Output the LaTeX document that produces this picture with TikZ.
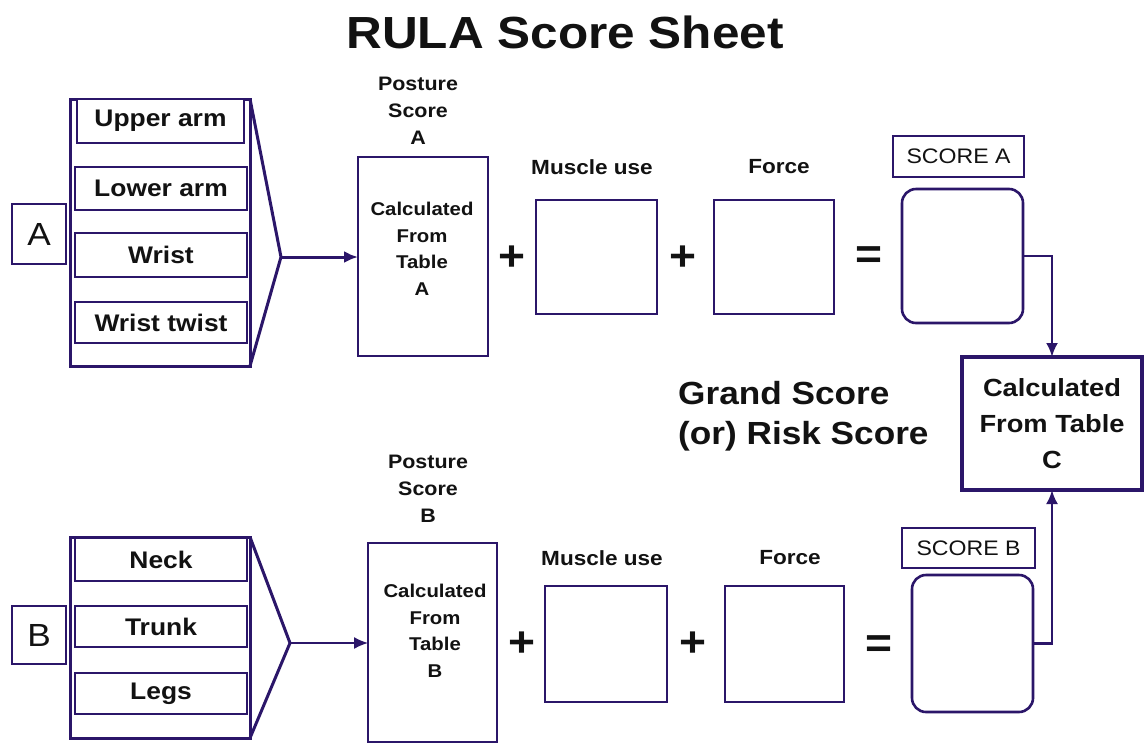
\documentclass[tikz,border=0pt]{standalone}
\usepackage{fontspec}
\setmainfont{Liberation Sans}[FakeStretch=1.1]
\usetikzlibrary{arrows.meta}
\definecolor{ln}{RGB}{43,22,105}
\definecolor{tx}{RGB}{18,18,18}
\begin{document}
\begin{tikzpicture}[x=1pt,y=1pt,
  box/.style={draw=ln, line width=2.6pt, inner sep=0pt, outer sep=0pt, fill=white, text=tx},
  thinbox/.style={box, line width=2pt},
  cbox/.style={box, line width=4.5pt},
  rbox/.style={box, rounded corners=14pt},
  part/.style={font=\bfseries\fontsize{24}{28}\selectfont},
  letter/.style={font=\fontsize{32}{36}\selectfont},
  plabel/.style={text=tx, align=center, inner sep=0pt, font=\bfseries\fontsize{19.5}{27}\selectfont},
  calc/.style={align=center, font=\bfseries\fontsize{18.5}{26.5}\selectfont},
  head/.style={text=tx, inner sep=0pt, font=\bfseries\fontsize{20.5}{24}\selectfont},
  op/.style={text=tx, inner sep=0pt, font=\bfseries\fontsize{42}{46}\selectfont},
  slabel/.style={thinbox, font=\fontsize{21}{24}\selectfont},
  chev/.style={draw=ln, line width=3pt, line join=miter},
  conn/.style={draw=ln, -{Latex[length=14pt,width=12pt]}},
]
\useasboundingbox (0,0) rectangle (1147,-742);
\fill[white] (0,0) rectangle (1147,-742);

% title
\node[text=tx, font=\bfseries\fontsize{45}{50}\selectfont] (title) at (565,-32) {RULA Score Sheet};

% ---------- group A ----------
\node[box, letter, minimum width=54, minimum height=60] (Abox) at (39,-234) {A};
\node[box, line width=3pt, minimum width=180, minimum height=267] (Acont) at (160,-232.5) {};
\node[box, part, minimum width=167, minimum height=44] (upper) at (160.5,-121) {Upper arm};
\node[box, part, minimum width=172, minimum height=43] (lower) at (161,-188.5) {Lower arm};
\node[box, part, minimum width=172, minimum height=44] (wrist) at (161,-255) {Wrist};
\node[box, part, minimum width=172, minimum height=41] (twist) at (161,-322.5) {Wrist twist};
\coordinate (apexA) at (281,-257);
\draw[chev] (Acont.north east) -- (apexA) -- (Acont.south east);

\node[plabel] (plA) at (418,-111) {Posture\\Score\\A};
\node[thinbox, calc, minimum width=130, minimum height=199] (postA) at (423,-256.5) {};
\node[calc, text=tx] (calcA) at (422,-249) {Calculated\\From\\Table\\A};
\draw[conn, line width=3pt] (apexA) -- (apexA -| postA.west);

\node[op] (plusA1) at (512,-258) {+};
\node[head] (muA) at (592,-167) {Muscle use};
\node[box, minimum width=121, minimum height=114] (muscleA) at (596.5,-257) {};
\node[op] (plusA2) at (683,-258) {+};
\node[head] (foA) at (779,-167) {Force};
\node[box, minimum width=120, minimum height=114] (forceA) at (774,-257) {};
\node[op] (eqA) at (869,-258) {=};
\node[slabel, minimum width=131, minimum height=41] (slA) at (958.5,-156.5) {SCORE A};
\node[rbox, minimum width=121, minimum height=134] (scA) at (962.5,-256) {};

% ---------- result ----------
\node[cbox, align=center, font=\bfseries\fontsize{24.8}{36}\selectfont, minimum width=180, minimum height=133] (C) at (1052,-423.5) {Calculated\\From Table\\C};
\node[text=tx, align=left, anchor=west, inner sep=0pt, font=\bfseries\fontsize{32}{40}\selectfont] (grand) at (678,-416) {Grand Score\\(or) Risk Score};

% ---------- group B ----------
\node[box, letter, minimum width=54, minimum height=58] (Bbox) at (39,-635) {B};
\node[box, line width=3pt, minimum width=180, minimum height=201] (Bcont) at (160,-637.5) {};
\node[box, part, minimum width=172, minimum height=43] (neck) at (161,-559.5) {Neck};
\node[box, part, minimum width=172, minimum height=41] (trunk) at (161,-626.5) {Trunk};
\node[box, part, minimum width=172, minimum height=41] (legs) at (161,-693.5) {Legs};
\coordinate (apexB) at (290,-643);
\draw[chev] (Bcont.north east) -- (apexB) -- (Bcont.south east);

\node[plabel] (plB) at (428,-489) {Posture\\Score\\B};
\node[thinbox, line width=2.6pt, minimum width=129, minimum height=199] (postB) at (432.5,-642.5) {};
\node[calc, text=tx] (calcB) at (435,-631) {Calculated\\From\\Table\\B};
\draw[conn, line width=1.6pt] (apexB) -- (apexB -| postB.west);

\node[op] (plusB1) at (522,-644) {+};
\node[head] (muB) at (602,-558) {Muscle use};
\node[box, minimum width=122, minimum height=116] (muscleB) at (606,-644) {};
\node[op] (plusB2) at (693,-644) {+};
\node[head] (foB) at (790,-558) {Force};
\node[box, minimum width=119, minimum height=116] (forceB) at (784.5,-644) {};
\node[op] (eqB) at (879,-647) {=};
\node[slabel, minimum width=133, minimum height=40] (slB) at (968.5,-548) {SCORE B};
\node[rbox, minimum width=121, minimum height=137] (scB) at (972.5,-643.5) {};

% ---------- connectors to C ----------
\draw[conn, line width=2.6pt] (scA.east) -| (C.north);
\draw[conn, line width=2.6pt] (scB.east) -| (C.south);
\end{tikzpicture}
\end{document}
